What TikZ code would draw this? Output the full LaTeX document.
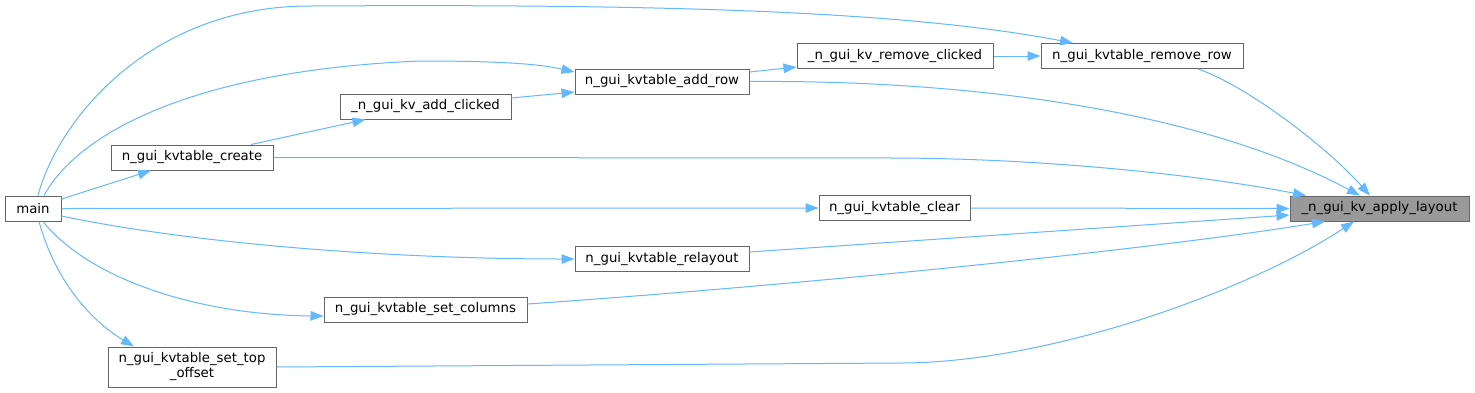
\documentclass[tikz,border=0pt]{standalone}
\usepackage{fontspec}
\setmainfont{DejaVu Sans}
\definecolor{edgeblue}{HTML}{63B8FF}
\definecolor{boxgray}{HTML}{666666}
\definecolor{rootgray}{HTML}{999999}
\usetikzlibrary{arrows.meta}

\begin{document}
\begin{tikzpicture}[x=1pt,y=-1pt,
  fn/.style={draw=boxgray,fill=white,line width=1pt,inner sep=0pt,
    minimum height=25pt,font=\fontsize{13.3}{15}\selectfont,align=center},
  root/.style={fn,fill=rootgray},
  call/.style={draw=edgeblue,line width=1pt,-{Triangle[length=13pt,width=9.5pt]}}
]
  \useasboundingbox[fill=white] (0,0) rectangle (1475,392);

  % functions
  \node[fn,minimum width=56pt] (main) at (33,208.5) {main};
  \node[fn,minimum width=162pt] (create) at (192,157.5) {n\_gui\_kvtable\_create};
  \node[fn,minimum width=168pt,minimum height=40pt] (topoff) at (192,367) {n\_gui\_kvtable\_set\_top\\\_offset};
  \node[fn,minimum width=171pt] (addclk) at (425.5,106.5) {\_n\_gui\_kv\_add\_clicked};
  \node[fn,minimum width=203pt] (setcol) at (425.5,309.5) {n\_gui\_kvtable\_set\_columns};
  \node[fn,minimum width=174pt] (addrow) at (662,81.5) {n\_gui\_kvtable\_add\_row};
  \node[fn,minimum width=174pt] (relay) at (662,259) {n\_gui\_kvtable\_relayout};
  \node[fn,minimum width=196pt] (remclk) at (895,56) {\_n\_gui\_kv\_remove\_clicked};
  \node[fn,minimum width=151pt] (clear) at (894.5,208) {n\_gui\_kvtable\_clear};
  \node[fn,minimum width=202pt] (remrow) at (1142,56) {n\_gui\_kvtable\_remove\_row};
  \node[root,minimum width=179pt] (apply) at (1379.5,208.5) {\_n\_gui\_kv\_apply\_layout};

  % calls from main
  \draw[call] ([xshift=5pt]main.north) .. controls (58,120) and (150,6) .. (310,6)
    .. controls (650,4) and (900,10) .. ([xshift=-69pt]remrow.north);
  \draw[call] ([xshift=11pt]main.north) .. controls (80,130) and (200,70) .. (420,61)
    .. controls (500,61) and (540,64) .. ([yshift=9.5pt]addrow.west);
  \draw[call] ([yshift=9.5pt]main.east) -- ([xshift=-41pt]create.south);
  \draw[call] (main.east) -- (clear.west);
  \draw[call] ([yshift=-7.5pt]main.east) .. controls (200,245) and (400,259) .. (relay.west);
  \draw[call] ([xshift=10pt]main.south) .. controls (90,280) and (200,315) .. ([yshift=-6.5pt]setcol.west);
  \draw[call] ([xshift=6pt]main.south) .. controls (55,280) and (90,320) .. ([xshift=-58pt]topoff.north);

  % inner calls
  \draw[call] ([xshift=59pt]create.north) -- ([xshift=-60pt]addclk.south);
  \draw[call] ([yshift=8.5pt]addclk.east) -- ([yshift=-10.5pt]addrow.west);
  \draw[call] ([yshift=9.5pt]addrow.east) -- ([yshift=-11pt]remclk.west);
  \draw[call] (remclk.east) -- (remrow.west);

  % calls into apply_layout
  \draw[call] (addrow.east) .. controls (950,80) and (1190,105) .. ([xshift=-19.5pt]apply.north);
  \draw[call] ([xshift=56pt]remrow.south) .. controls (1245,85) and (1325,145) .. ([xshift=-9.5pt]apply.north);
  \draw[call] (create.east) -- (900,158) .. controls (1050,159) and (1200,175) .. ([xshift=-73.5pt]apply.north);
  \draw[call] (clear.east) -- (apply.west);
  \draw[call] ([yshift=7pt]relay.east) -- ([yshift=-6.5pt]apply.west);
  \draw[call] ([yshift=5.5pt]setcol.east) .. controls (800,285) and (1150,250) .. ([xshift=-54.5pt]apply.south);
  \draw[call] (topoff.east) -- (900,363) .. controls (1050,363) and (1250,290) .. ([xshift=-25.5pt]apply.south);
\end{tikzpicture}
\end{document}
